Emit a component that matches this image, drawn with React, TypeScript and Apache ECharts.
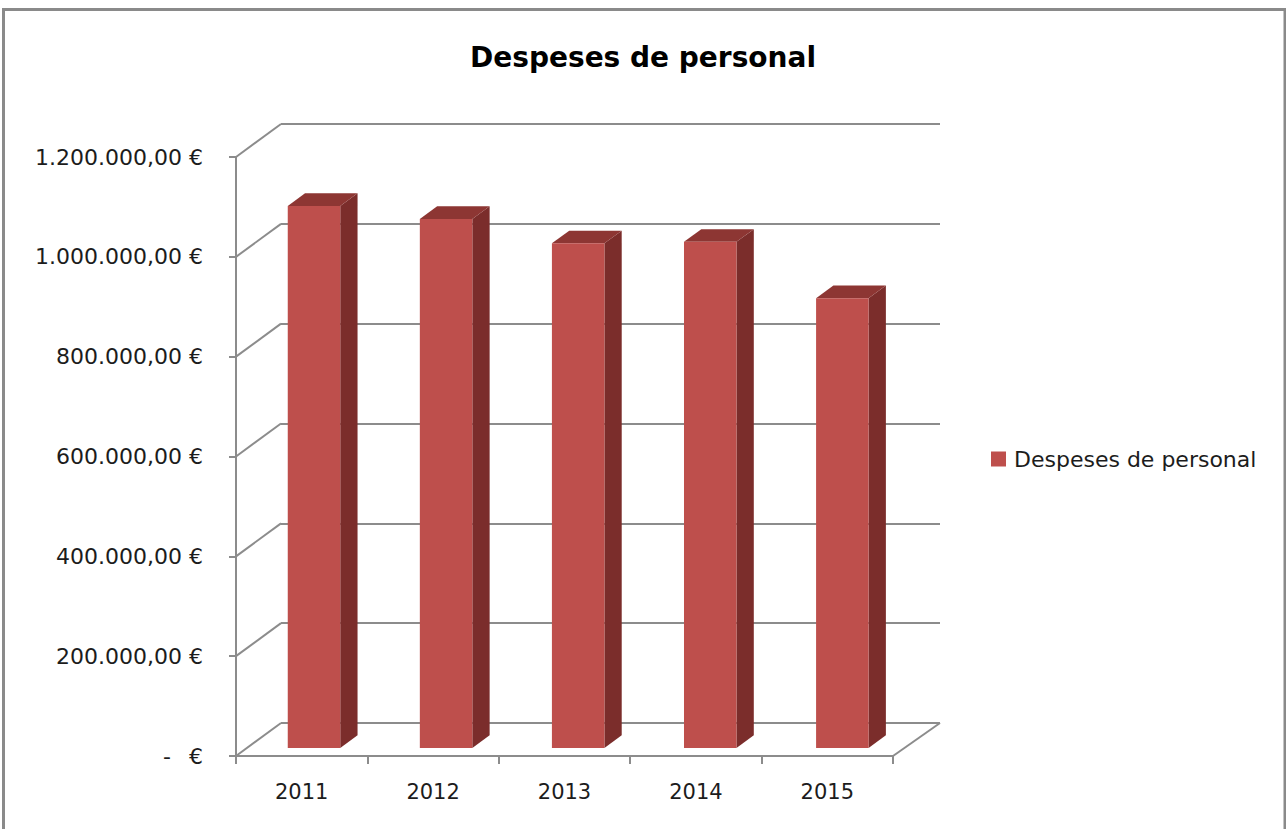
import React, { useEffect, useRef } from "react";
import * as echarts from "echarts";

const chartTitle = "Despeses de personal";
const seriesName = "Despeses de personal";
const categories = ["2011", "2012", "2013", "2014", "2015"];
const values = [1086000, 1060000, 1011000, 1014000, 901000];
const yTicks = [0, 200000, 400000, 600000, 800000, 1000000, 1200000];
const yMin = 0;
const yMax = 1200000;
const yStep = 200000;

const FONT = "DejaVu Sans";
const GRID_COLOR = "#8c8c8c";
const FRONT = "#BE4F4C";
const SIDE = "#7B2D2B";
const TOP = "#8D3633";
const TEXT = "#1c1c1c";

function fmtEuro(v: number): string {
  if (v === 0) return "-\u2002 €";
  const s = Math.round(v)
    .toString()
    .replace(/\B(?=(\d{3})+(?!\d))/g, ".");
  return s + ",00 €";
}

export default function App() {
  const ref = useRef<HTMLDivElement>(null);

  useEffect(() => {
    if (!ref.current) return;
    const chart = echarts.init(ref.current, undefined, { renderer: "svg" });

    const wallData = yTicks.map((v) => [0, v, 0]);
    wallData.push([0, 0, 1]);

    const option: any = {
      animation: false,
      backgroundColor: "#ffffff",
      title: {
        text: chartTitle,
        left: "center",
        top: 38,
        textStyle: { fontFamily: FONT, fontWeight: "bold", fontSize: 28, color: "#000" },
      },
      legend: {
        left: 986,
        top: 443,
        itemWidth: 15,
        itemHeight: 15,
        data: [{ name: seriesName, icon: "rect" }],
        textStyle: { fontFamily: FONT, fontSize: 22, color: TEXT, padding: [0, 0, 0, 3] },
      },
      graphic: [
        {
          type: "rect",
          shape: { x: 3.5, y: 9.5, width: 1281.5, height: 840 },
          style: { fill: "none", stroke: "#8a8a8a", lineWidth: 3 },
          silent: true,
        },
      ],
      grid: [
        { left: 281, top: 124, width: 659, height: 599 },
        { left: 236, top: 157, width: 657, height: 599 },
      ],
      xAxis: [
        { gridIndex: 0, type: "category", data: categories, show: false },
        {
          gridIndex: 1,
          type: "category",
          data: categories,
          axisLine: { show: true, lineStyle: { color: GRID_COLOR, width: 2 } },
          axisTick: { show: true, length: 8, lineStyle: { color: GRID_COLOR, width: 2 } },
          axisLabel: { margin: 25, fontFamily: FONT, fontSize: 21, color: TEXT },
          splitLine: { show: false },
        },
      ],
      yAxis: [
        {
          gridIndex: 0,
          type: "value",
          min: yMin,
          max: yMax,
          interval: yStep,
          axisLine: { show: false },
          axisTick: { show: false },
          axisLabel: { show: false },
          splitLine: { show: true, lineStyle: { color: GRID_COLOR, width: 2 } },
        },
        {
          gridIndex: 1,
          type: "value",
          min: yMin,
          max: yMax,
          interval: yStep,
          axisLine: { show: true, lineStyle: { color: GRID_COLOR, width: 2 } },
          axisTick: { show: true, length: 7, lineStyle: { color: GRID_COLOR, width: 2 } },
          axisLabel: {
            margin: 33,
            fontFamily: FONT,
            fontSize: 22,
            color: TEXT,
            formatter: (v: number) => fmtEuro(v),
          },
          splitLine: { show: false },
        },
      ],
      series: [
        {
          type: "custom",
          xAxisIndex: 1,
          yAxisIndex: 1,
          silent: true,
          data: wallData,
          encode: { x: 0, y: 1 },
          renderItem: (params: any, api: any) => {
            const cs = params.coordSys;
            const v = api.value(1);
            const kind = api.value(2);
            const y = api.coord([0, v])[1];
            if (kind === 1) {
              const x = cs.x + cs.width;
              return {
                type: "line",
                shape: { x1: x, y1: y, x2: x + 47, y2: y - 33 },
                style: { stroke: GRID_COLOR, lineWidth: 2 },
              };
            }
            return {
              type: "line",
              shape: { x1: cs.x, y1: y, x2: cs.x + 45, y2: y - 33 },
              style: { stroke: GRID_COLOR, lineWidth: 2 },
            };
          },
        },
        {
          name: seriesName,
          type: "custom",
          xAxisIndex: 1,
          yAxisIndex: 1,
          itemStyle: { color: FRONT },
          data: values.map((v, i) => [i, v]),
          encode: { x: 0, y: 1 },
          renderItem: (params: any, api: any) => {
            const cs = params.coordSys;
            const i = api.value(0);
            const v = api.value(1);
            const top = api.coord([i, v]);
            const base = api.coord([i, 0]);
            const band = api.size([1, 0])[0];
            const shiftX = 12.3 + (base[0] - (cs.x + band / 2)) * 0.0052;
            const shiftY = -8;
            const w = 52.5;
            const dX = 17.3;
            const dY = -12.7;
            const xl = base[0] + shiftX - w / 2;
            const xr = xl + w;
            const yt = top[1] + shiftY;
            const yb = base[1] + shiftY;
            return {
              type: "group",
              children: [
                {
                  type: "polygon",
                  shape: { points: [[xr, yb], [xr + dX, yb + dY], [xr + dX, yt + dY], [xr, yt]] },
                  style: { fill: SIDE },
                },
                {
                  type: "polygon",
                  shape: { points: [[xl, yt], [xr, yt], [xr + dX, yt + dY], [xl + dX, yt + dY]] },
                  style: { fill: TOP },
                },
                {
                  type: "rect",
                  shape: { x: xl, y: yt, width: w, height: yb - yt },
                  style: { fill: FRONT },
                },
              ],
            };
          },
        },
      ],
    };

    chart.setOption(option);
    return () => chart.dispose();
  }, []);

  return (
    <div
      ref={ref}
      style={{ position: "fixed", left: 0, top: 0, width: 1286, height: 829, background: "#fff" }}
    />
  );
}
